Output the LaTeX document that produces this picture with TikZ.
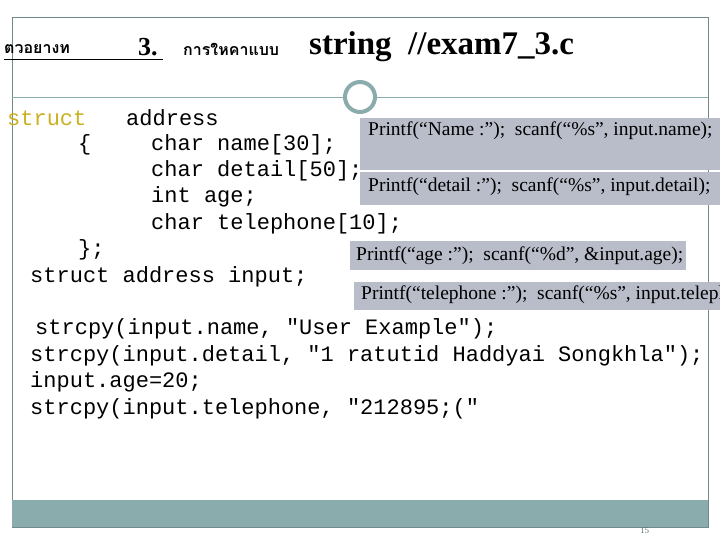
\documentclass[tikz,border=0pt]{standalone}
\usepackage{fontspec}
\setmainfont{Liberation Serif}
\setmonofont{Liberation Mono}
\newfontfamily\thaifont[Script=Thai]{Loma}
\usetikzlibrary{positioning}
\definecolor{bandteal}{HTML}{8AACAC}
\definecolor{boxgray}{HTML}{B9BDC9}
\definecolor{kw}{HTML}{C8B020}

\begin{document}
\begin{tikzpicture}[x=1pt,y=-1pt]
	\tikzstyle{every node}=[inner sep=0pt,anchor=west,text=black]
	\tikzstyle{code}=[font=\ttfamily\fontsize{22}{22}\selectfont]
	\tikzstyle{hint}=[font=\fontsize{19.5}{19.5}\selectfont]
	\tikzstyle{hintbox}=[fill=boxgray,draw=none]
	\useasboundingbox (0,0) rectangle (720,540);

	% frame, rule and footer band
	\draw[bandteal!80!black,line width=0.6pt] (12,17) rectangle (708,527);
	\draw[bandteal,line width=0.8pt] (12,97) -- (708,97);
	\fill[bandteal] (12,500) rectangle (708,527);
	\draw[bandteal,line width=4pt,fill=white] (360,97) circle (15);
	\node[font=\fontsize{9}{9}\selectfont,text=bandteal!70!black] (page) at (640,531) {15};

	% title
	\node[font=\thaifont\bfseries\fontsize{16}{16}\selectfont] (t1) at (4,49) {ตวอยางท};
	\node[font=\bfseries\fontsize{26}{26}\selectfont] (t2) at (138,47) {3.};
	\draw[line width=1pt] (4,60) -- (163,60);
	\node[font=\thaifont\bfseries\fontsize{16}{16}\selectfont] (t3) at (183,49) {การใหคาแบบ};
	\node[font=\bfseries\fontsize{33}{33}\selectfont] (t4) at (309,47) {string\ \ //exam7\_3.c};

	% hint boxes
	\fill[hintbox] (360,118) rectangle (720,170);
	\fill[hintbox] (360,172) rectangle (720,205);
	\fill[hintbox] (350,241) rectangle (686,270);
	\fill[hintbox] (354,282) rectangle (720,310);
	\begin{scope}
		\clip (0,0) rectangle (720,540);
		\node[hint] (h1) at (368,131) {Printf(“Name :”);\ \ scanf(“\%s”, input.name);};
		\node[hint] (h2) at (368,187) {Printf(“detail :”);\ \ scanf(“\%s”, input.detail);};
		\node[hint] (h3) at (356,256) {Printf(“age :”);\ \ scanf(“\%d”, \&input.age);};
		\node[hint] (h4) at (361,295) {Printf(“telephone :”);\ \ scanf(“\%s”, input.telephone);};
	\end{scope}

	% struct code
	\node[code,text=kw] (s1) at (7,118) {struct};
	\node[code] (s2) at (126,118) {address};
	\node[code] (s3) at (78,145) {\{};
	\node[code] (s4) at (151,145) {char name[30];};
	\node[code] (s5) at (151,171) {char detail[50];};
	\node[code] (s6) at (151,197) {int age;};
	\node[code] (s7) at (151,224) {char telephone[10];};
	\node[code] (s8) at (78,250) {\};};
	\node[code] (s9) at (30,277) {struct address input;};

	% assignments
	\node[code] (a1) at (35,329) {strcpy(input.name, "User Example");};
	\node[code] (a2) at (30,356) {strcpy(input.detail, "1 ratutid Haddyai Songkhla");};
	\node[code] (a3) at (30,382) {input.age=20;};
	\node[code] (a4) at (30,409) {strcpy(input.telephone, "212895;("};
\end{tikzpicture}
\end{document}
